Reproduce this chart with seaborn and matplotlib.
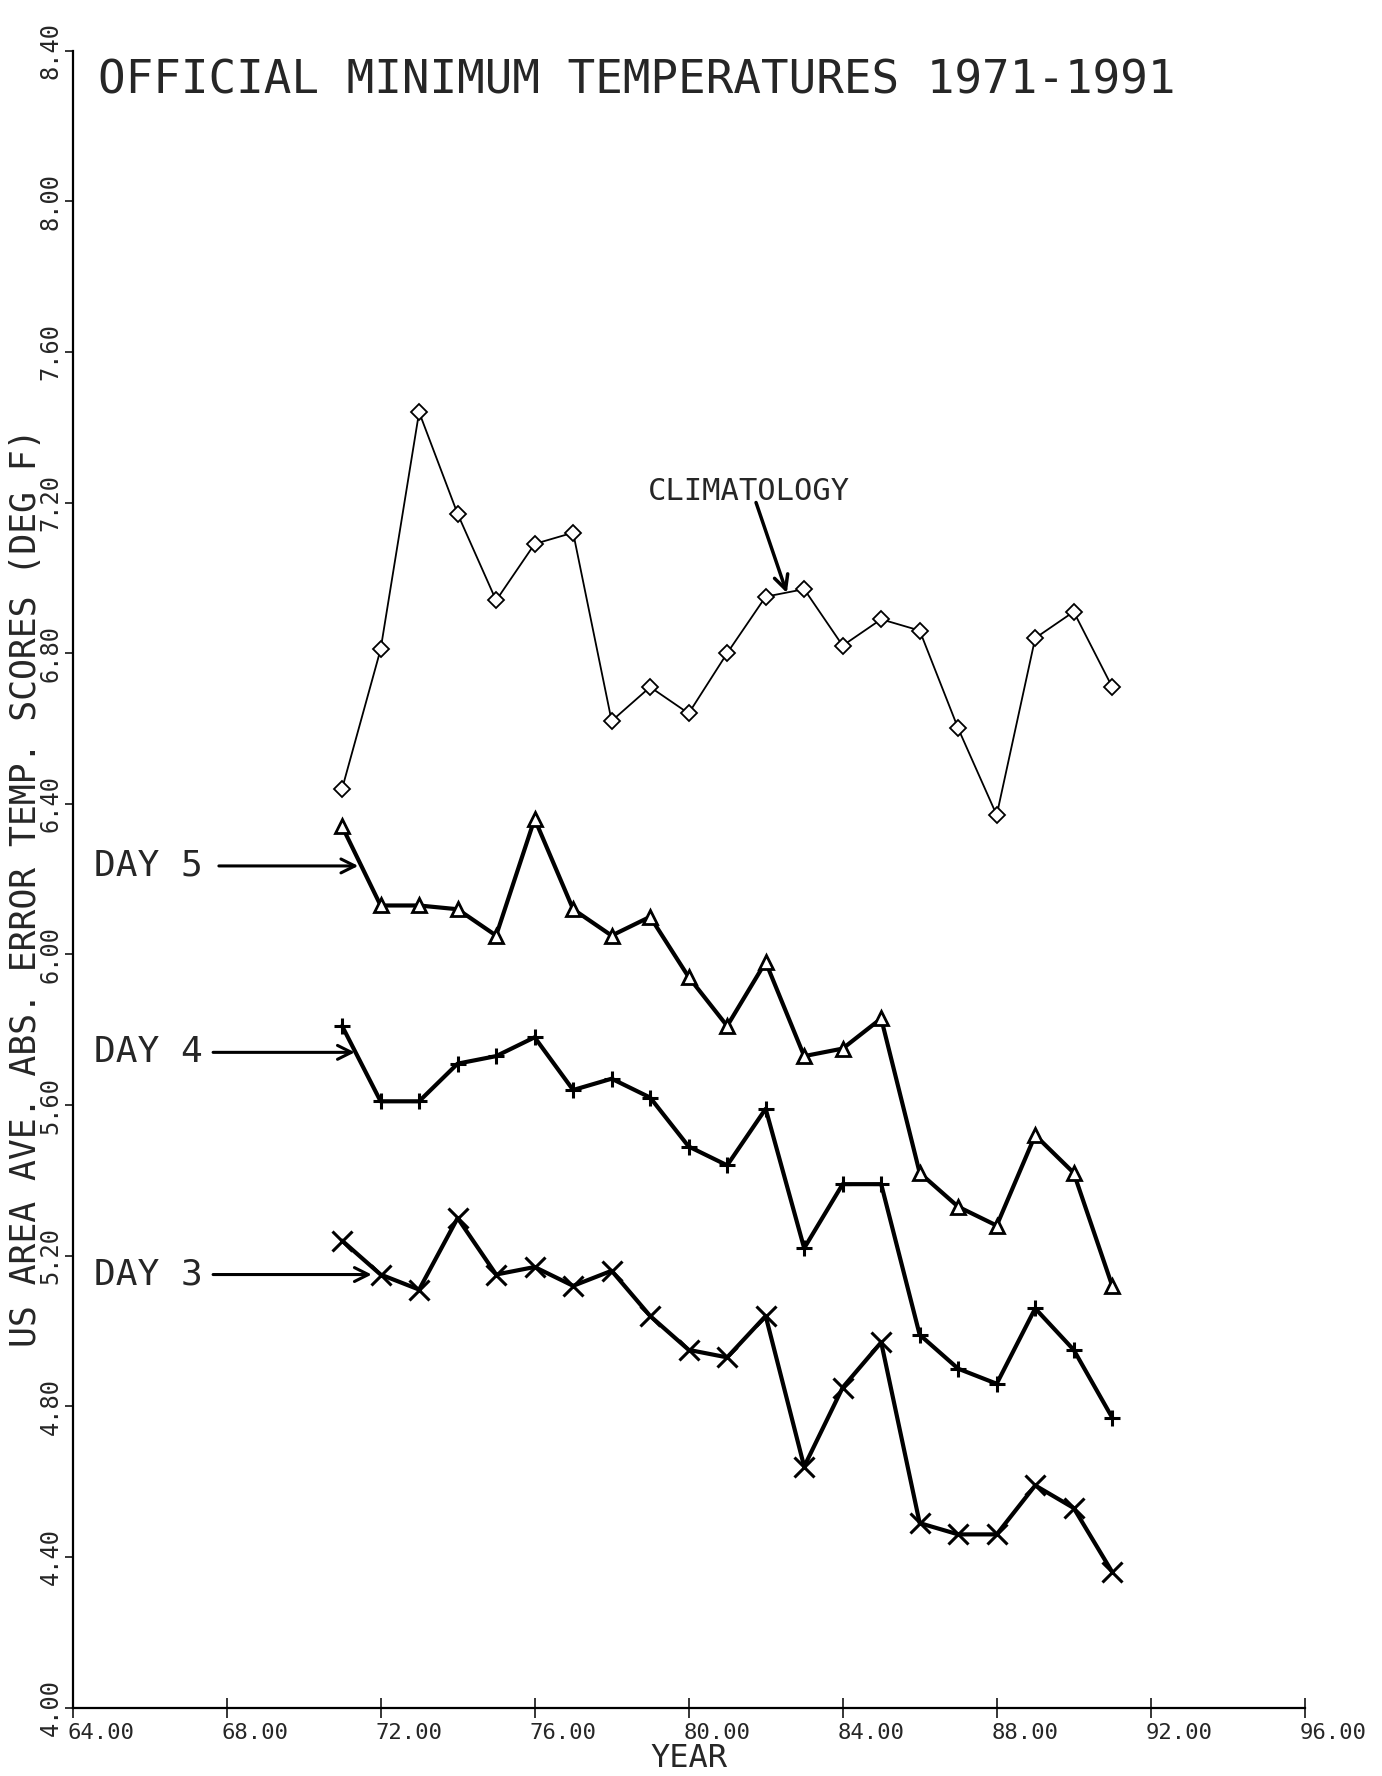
import numpy as np
import pandas as pd
import matplotlib
matplotlib.use("Agg")
import matplotlib.pyplot as plt
import matplotlib.transforms as mtransforms
import seaborn as sns

years = list(range(1971, 1992))
year_short = [y - 1900 for y in years]

climatology = [6.44, 6.81, 7.44, 7.17, 6.94, 7.09, 7.12, 6.62, 6.71, 6.64, 6.80,
               6.95, 6.97, 6.82, 6.89, 6.86, 6.60, 6.37, 6.84, 6.91, 6.71]
day5 = [6.34, 6.13, 6.13, 6.12, 6.05, 6.36, 6.12, 6.05, 6.10, 5.94, 5.81,
        5.98, 5.73, 5.75, 5.83, 5.42, 5.33, 5.28, 5.52, 5.42, 5.12]
day4 = [5.81, 5.61, 5.61, 5.71, 5.73, 5.78, 5.64, 5.67, 5.62, 5.49, 5.44,
        5.59, 5.22, 5.39, 5.39, 4.99, 4.90, 4.86, 5.06, 4.95, 4.77]
day3 = [5.24, 5.15, 5.11, 5.30, 5.15, 5.17, 5.12, 5.16, 5.04, 4.95, 4.93,
        5.04, 4.64, 4.85, 4.97, 4.49, 4.46, 4.46, 4.59, 4.53, 4.36]

x_ticks = [64, 68, 72, 76, 80, 84, 88, 92, 96]
y_ticks = [4.00, 4.40, 4.80, 5.20, 5.60, 6.00, 6.40, 6.80, 7.20, 7.60, 8.00, 8.40]

title = "OFFICIAL MINIMUM TEMPERATURES 1971-1991"
xlabel = "YEAR"
ylabel = "US AREA AVE. ABS. ERROR TEMP. SCORES (DEG F)"

sns.set_theme(style="ticks")
plt.rcParams["font.family"] = ["DejaVu Sans Mono", "DejaVu Sans"]

fig = plt.figure(figsize=(13.82, 17.76), dpi=100)
ax = fig.add_axes([0.0525, 0.0385, 0.8916, 0.933])

df = pd.DataFrame({"yr": year_short, "clim": climatology, "d5": day5,
                   "d4": day4, "d3": day3})

sns.lineplot(data=df, x="yr", y="clim", ax=ax, color="black", lw=1.3,
             marker="D", markersize=8, markerfacecolor="white",
             markeredgecolor="black", markeredgewidth=1.3)
sns.lineplot(data=df, x="yr", y="d5", ax=ax, color="black", lw=3.0,
             marker="^", markersize=10, markerfacecolor="white",
             markeredgecolor="black", markeredgewidth=2)
sns.lineplot(data=df, x="yr", y="d4", ax=ax, color="black", lw=3.0,
             marker="+", markersize=12, markeredgewidth=2.2,
             markeredgecolor="black", markerfacecolor="black")
sns.lineplot(data=df, x="yr", y="d3", ax=ax, color="black", lw=3.0,
             marker="x", markersize=14, markeredgewidth=2.2,
             markeredgecolor="black", markerfacecolor="black")

ax.set_xlim(64, 96)
ax.set_ylim(4.0, 8.4)
ax.set_xticks(x_ticks)
ax.set_xticklabels([f"{v:.2f}" for v in x_ticks], fontsize=16)
ax.set_yticks(y_ticks)
ax.set_yticklabels([f"{v:.2f}" for v in y_ticks], fontsize=17, rotation=90,
                   va="center")
ax.tick_params(axis="x", direction="inout", length=14, width=1.3, pad=4)
ax.tick_params(axis="y", direction="out", length=6, width=1.3, pad=1)
shift = mtransforms.ScaledTranslation(0.28, 0, fig.dpi_scale_trans)
for lab in ax.get_xticklabels():
    lab.set_transform(lab.get_transform() + shift)
sns.despine(ax=ax)
for s in ["left", "bottom"]:
    ax.spines[s].set_linewidth(1.6)
    ax.spines[s].set_color("black")

ax.set_xlabel(xlabel, fontsize=23, labelpad=0)
ax.set_ylabel(ylabel, fontsize=25, labelpad=0)
ax.yaxis.set_label_coords(-0.024, 0.495)
ax.set_title("")

ax.text(64.65, 8.32, title, fontsize=33, ha="left", va="center")

ax.text(78.95, 7.23, "CLIMATOLOGY", fontsize=22, ha="left", va="center")
ax.annotate("", xy=(82.55, 6.96), xytext=(81.75, 7.20),
            arrowprops=dict(arrowstyle="->", lw=2.5, color="black",
                            mutation_scale=25, shrinkA=0, shrinkB=0))

for lab, yv, x0, x1 in [("DAY 5", 6.235, 67.8, 71.42),
                        ("DAY 4", 5.74, 67.65, 71.33),
                        ("DAY 3", 5.15, 67.65, 71.77)]:
    ax.text(64.56, yv, lab, fontsize=26, ha="left", va="center")
    ax.annotate("", xy=(x1, yv), xytext=(x0, yv),
                arrowprops=dict(arrowstyle="->", lw=2.2, color="black",
                                mutation_scale=25, shrinkA=0, shrinkB=0))

fig.savefig("out.png", dpi=100, facecolor="white")
